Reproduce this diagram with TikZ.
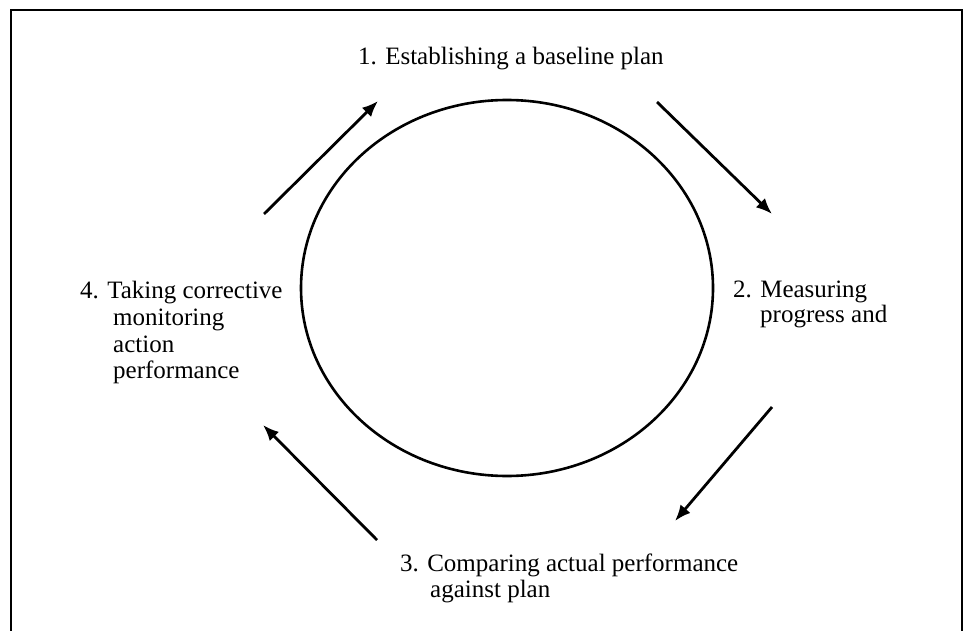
\documentclass[tikz,border=0pt]{standalone}
\usepackage{fontspec}
\setmainfont{Liberation Serif}
\usetikzlibrary{arrows.meta,shapes.geometric}
\begin{document}
\begin{tikzpicture}[x=1pt,y=-1pt,
  lbl/.style={anchor=base west,inner sep=0pt,font=\fontsize{25}{26}\selectfont,align=left},
  cyc/.style={draw,line width=2.8pt,-{Latex[length=16pt,width=13pt]}},
  ring/.style={draw,ellipse,line width=2.6pt,minimum width=412pt,minimum height=376pt,inner sep=0pt},
  frame/.style={line width=1.6pt}]
\useasboundingbox (0,0) rectangle (963,631);
\fill[white] (0,0) rectangle (963,631);
% frame
\coordinate (fbl) at (11,631);
\coordinate (ftl) at (11,10);
\coordinate (ftr) at (962,10);
\coordinate (fbr) at (962,631);
\draw[frame] (fbl) -- (ftl) -- (ftr) -- (fbr);
% circle
\node[ring] (ring) at (507,288) {};
% labels
\node[lbl] (l1) at (358,65) {1. Establishing a baseline plan};
\node[lbl] (l2a) at (733,297) {2. Measuring};
\node[lbl] (l2b) at (760,322) {progress and};
\node[lbl] (l3a) at (400,571) {3. Comparing actual performance};
\node[lbl] (l3b) at (430,597) {against plan};
\node[lbl] (l4a) at (80,298) {4. Taking corrective};
\node[lbl] (l4b) at (113,325) {monitoring};
\node[lbl] (l4c) at (113,352) {action};
\node[lbl] (l4d) at (113,378) {performance};
% arrow ends
\coordinate (a1s) at (264,214); \coordinate (a1e) at (378,101);
\coordinate (a2s) at (657,102); \coordinate (a2e) at (772,214);
\coordinate (a3s) at (772,407); \coordinate (a3e) at (675,521);
\coordinate (a4s) at (377,540); \coordinate (a4e) at (263,425);
\draw[cyc] (a1s) -- (a1e);
\draw[cyc] (a2s) -- (a2e);
\draw[cyc] (a3s) -- (a3e);
\draw[cyc] (a4s) -- (a4e);
\end{tikzpicture}
\end{document}
